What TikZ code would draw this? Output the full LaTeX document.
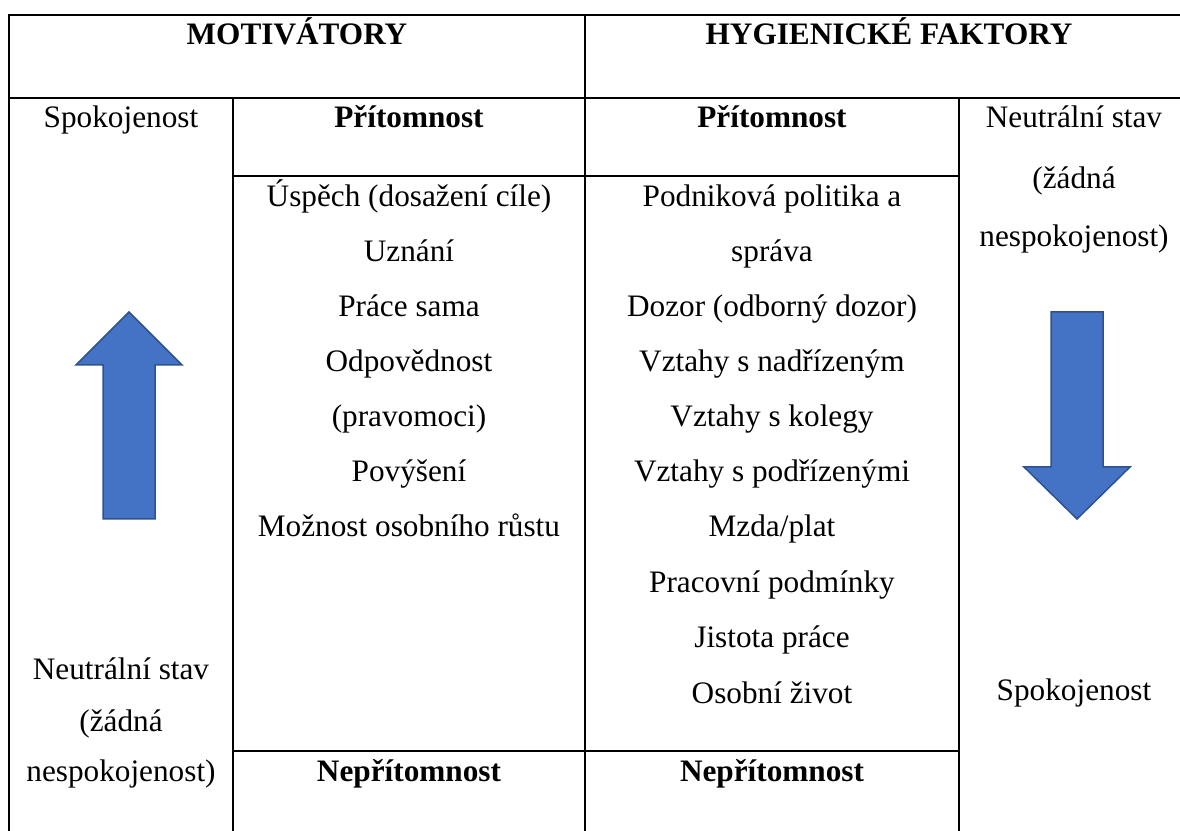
\documentclass[tikz,border=0pt]{standalone}
\usepackage{fontspec}
\setmainfont{Liberation Serif}
\definecolor{arrowfill}{HTML}{4472C4}
\definecolor{arrowline}{HTML}{2F528F}
\begin{document}
\begin{tikzpicture}[x=0.4pt,y=-0.4pt,
  grid/.style={line width=0.8pt, line cap=rect},
  txt/.style={anchor=base, inner sep=0pt, font=\fontsize{12.5}{14}\selectfont},
  btxt/.style={anchor=base, inner sep=0pt, font=\fontsize{12.5}{14}\selectfont\bfseries},
  bigarrow/.style={fill=arrowfill, draw=arrowline, line width=0.6pt, line join=miter}]
\useasboundingbox (0,0) rectangle (1180,831);
% table rules
\draw[grid] (9,831) -- (9,15) -- (1180,15);
\draw[grid] (9,98) -- (1180,98);
\draw[grid] (585,15) -- (585,831);
\draw[grid] (233,98) -- (233,831);
\draw[grid] (959,98) -- (959,831);
\draw[grid] (233,176) -- (959,176);
\draw[grid] (233,751) -- (959,751);
% headers
\node[btxt] (hm) at (297,45) {MOTIVÁTORY};
\node[btxt] (hh) at (889,45) {HYGIENICKÉ FAKTORY};
% first column
\node[txt] (l1) at (121,128) {Spokojenost};
\node[txt] (l2) at (121,680) {Neutrální stav};
\node[txt] (l3) at (121,731) {(žádná};
\node[txt] (l4) at (121,781) {nespokojenost)};
% second column
\node[btxt] (m0) at (409,128) {Přítomnost};
\node[txt] (m1) at (409,207) {Úspěch (dosažení cíle)};
\node[txt] (m2) at (409,262) {Uznání};
\node[txt] (m3) at (409,317) {Práce sama};
\node[txt] (m4) at (409,372) {Odpovědnost};
\node[txt] (m5) at (409,427) {(pravomoci)};
\node[txt] (m6) at (409,482) {Povýšení};
\node[txt] (m7) at (409,537) {Možnost osobního růstu};
\node[btxt] (m8) at (409,781) {Nepřítomnost};
% third column
\node[btxt] (h0) at (772,128) {Přítomnost};
\node[txt] (h1) at (772,207) {Podniková politika a};
\node[txt] (h2) at (772,262) {správa};
\node[txt] (h3) at (772,317) {Dozor (odborný dozor)};
\node[txt] (h4) at (772,372) {Vztahy s nadřízeným};
\node[txt] (h5) at (772,427) {Vztahy s kolegy};
\node[txt] (h6) at (772,482) {Vztahy s podřízenými};
\node[txt] (h7) at (772,537) {Mzda/plat};
\node[txt] (h8) at (772,592) {Pracovní podmínky};
\node[txt] (h9) at (772,648) {Jistota práce};
\node[txt] (h10) at (772,703) {Osobní život};
\node[btxt] (h11) at (772,781) {Nepřítomnost};
% fourth column
\node[txt] (r1) at (1074,128) {Neutrální stav};
\node[txt] (r2) at (1074,189) {(žádná};
\node[txt] (r3) at (1074,247) {nespokojenost)};
\node[txt] (r4) at (1074,700) {Spokojenost};
% arrows
\draw[bigarrow] (129,312) -- (182,365) -- (155,365) -- (155,519) -- (103,519) -- (103,365) -- (76,365) -- cycle;
\draw[bigarrow] (1077,519) -- (1130,467) -- (1103,467) -- (1103,312) -- (1051,312) -- (1051,467) -- (1024,467) -- cycle;
\end{tikzpicture}
\end{document}
